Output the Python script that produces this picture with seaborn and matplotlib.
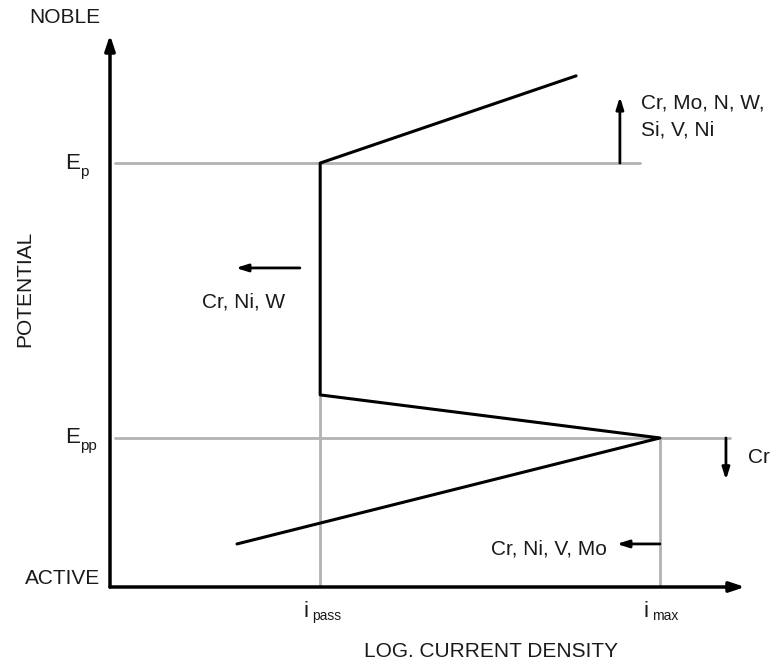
import matplotlib
matplotlib.use("Agg")
import matplotlib.pyplot as plt
import seaborn as sns
import pandas as pd

sns.set_style("white")
FONT = ["Liberation Sans", "DejaVu Sans"]
plt.rcParams["font.family"] = FONT

# Schematic anodic polarization curve (log i on x, potential on y, arbitrary units)
curve_x = [2.0, 8.66, 3.31, 3.31, 7.34]
curve_y = [0.78, 2.70, 3.48, 7.68, 9.26]

# Characteristic values
E_p = 7.68
E_pp = 2.70
i_pass = 3.31
i_max = 8.66

# Alloying-element effects: label, arrow start, arrow end
effect_labels = ["Cr, Mo, N, W,\nSi, V, Ni", "Cr, Ni, W", "Cr", "Cr, Ni, V, Mo"]
effect_starts = [(8.03, 7.68), (2.99, 5.78), (9.70, 2.70), (8.66, 0.78)]
effect_ends = [(8.03, 8.88), (1.98, 5.78), (9.70, 1.94), (7.98, 0.78)]

df = pd.DataFrame({"log_i": curve_x, "E": curve_y, "step": range(len(curve_x))})

fig = plt.figure(figsize=(7.71, 6.68), dpi=100)
ax = fig.add_axes([110 / 771, 81 / 668, 635 / 771, 552 / 668])
ax.set_xlim(0, 10)
ax.set_ylim(0, 10)
for s in ["top", "right", "left", "bottom"]:
    ax.spines[s].set_visible(False)
ax.set_xticks([])
ax.set_yticks([])

grey = "#b3b3b3"
# Reference lines
ax.plot([0.08, 8.35], [E_p, E_p], color=grey, lw=2.0, zorder=1)
ax.plot([0.08, 9.76], [E_pp, E_pp], color=grey, lw=2.0, zorder=1)
ax.plot([i_pass, i_pass], [0, 3.48], color=grey, lw=2.0, zorder=1)
ax.plot([i_max, i_max], [0, E_pp], color=grey, lw=2.0, zorder=1)

# Polarization curve
sns.lineplot(data=df, x="log_i", y="E", sort=False, estimator=None,
             color="black", lw=2.2, ax=ax, zorder=3)
ax.set_xlabel("")
ax.set_ylabel("")

# Axes with arrow heads
arrow_kw = dict(arrowstyle="-|>,head_length=0.9,head_width=0.3", color="black",
                lw=2.5, shrinkA=0, shrinkB=0)
ax.annotate("", xy=(0, 10), xytext=(0, 0), arrowprops=arrow_kw, annotation_clip=False)
ax.annotate("", xy=(10, 0), xytext=(0, 0), arrowprops=arrow_kw, annotation_clip=False)

# Effect arrows
small_arrow = dict(arrowstyle="-|>,head_length=0.7,head_width=0.22", color="black",
                   lw=2.0, shrinkA=0, shrinkB=0)
for start, end in zip(effect_starts, effect_ends):
    ax.annotate("", xy=end, xytext=start, arrowprops=small_arrow)

fs = 15
txt = "#1a1a1a"
ax.text(8.37, 8.52, effect_labels[0], fontsize=fs, ha="left", va="center",
        linespacing=1.5, color=txt, clip_on=False)
ax.text(2.11, 5.16, effect_labels[1], fontsize=fs, ha="center", va="center", color=txt)
ax.text(10.05, 2.34, effect_labels[2], fontsize=fs, ha="left", va="center", color=txt,
        clip_on=False)
ax.text(7.83, 0.69, effect_labels[3], fontsize=fs, ha="right", va="center", color=txt)

# Axis end labels
ax.text(-0.71, 10.31, "NOBLE", fontsize=fs, ha="center", va="center", color=txt,
        clip_on=False)
ax.text(-0.16, 0.16, "ACTIVE", fontsize=fs, ha="right", va="center", color=txt,
        clip_on=False)
ax.text(6.0, -1.16, "LOG. CURRENT DENSITY", fontsize=fs, ha="center", va="center",
        color=txt, clip_on=False)
ax.text(-1.35, 5.40, "POTENTIAL", fontsize=fs, ha="center", va="center", rotation=90,
        color=txt, clip_on=False)

# Potential labels with lowered subscripts
for val, sub in [(E_p, "p"), (E_pp, "pp")]:
    ax.annotate("E", xy=(-0.47, val), ha="right", va="center", fontsize=fs + 1,
                color=txt, annotation_clip=False)
    ax.annotate(sub, xy=(-0.47, val), xytext=(0, -9), textcoords="offset points",
                ha="left", va="baseline", fontsize=11, color=txt, annotation_clip=False)

# Current density labels
for val, sub in [(i_pass, "pass"), (i_max, "max")]:
    ax.annotate("i", xy=(val - 0.22, -0.44), ha="center", va="center", fontsize=fs + 1,
                color=txt, annotation_clip=False)
    ax.annotate(sub, xy=(val - 0.12, -0.44), xytext=(0, -6), textcoords="offset points",
                ha="left", va="baseline", fontsize=10, color=txt, annotation_clip=False)

fig.savefig("out.png", dpi=100)
